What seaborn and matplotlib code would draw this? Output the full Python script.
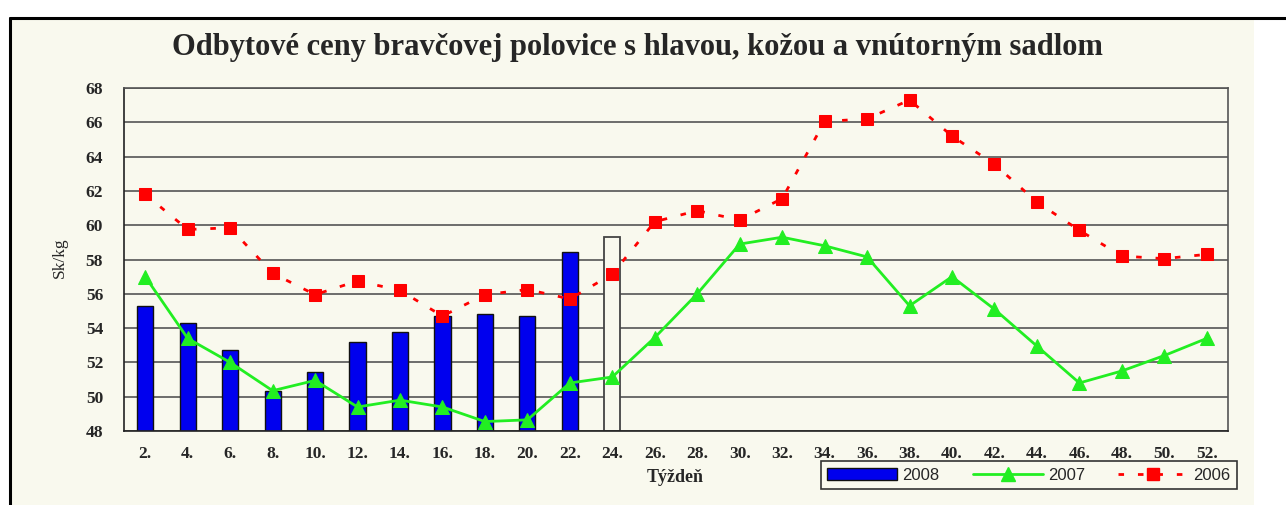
import numpy as np
import pandas as pd
import matplotlib
matplotlib.use("Agg")
import matplotlib.pyplot as plt
import seaborn as sns
from matplotlib.patches import Rectangle, Patch
from matplotlib.lines import Line2D

# data
weeks = [f"{w}." for w in range(2, 53, 2)]
bars_2008 = [55.3, 54.3, 52.7, 50.35, 51.45, 53.2, 53.8, 54.7, 54.85, 54.7, 58.45]
bar_week24 = [59.3]
line_2007 = [57.0, 53.4, 52.0, 50.35, 50.95, 49.4, 49.8, 49.4, 48.55, 48.65, 50.8, 51.15,
             53.45, 56.0, 58.9, 59.3, 58.8, 58.15, 55.3, 57.0, 55.1, 52.95, 50.8, 51.5, 52.4, 53.4]
line_2006 = [61.8, 59.75, 59.85, 57.2, 55.95, 56.75, 56.2, 54.7, 55.95, 56.25, 55.7, 57.15,
             60.2, 60.85, 60.3, 61.55, 66.05, 66.2, 67.3, 65.2, 63.55, 61.35, 59.7, 58.2, 58.05, 58.3]

bg = "#F9F9EE"
serif = "Liberation Serif"

sns.set_style("white")
plt.rcParams["font.family"] = [serif, "DejaVu Serif"]

W, H = 1286, 505
fig = plt.figure(figsize=(W / 100, H / 100), dpi=100)
fig.patch.set_facecolor("white")
fig.patches.append(Rectangle((10 / W, 0), (1254 - 10) / W, (H - 18) / H, transform=fig.transFigure,
                             facecolor=bg, edgecolor="none", zorder=-10))
fig.add_artist(Line2D([10 / W, 1], [1 - 18 / H, 1 - 18 / H], transform=fig.transFigure, color="black", lw=2.2))
fig.add_artist(Line2D([10 / W, 10 / W], [0, 1 - 18 / H], transform=fig.transFigure, color="black", lw=2.2))

ax = fig.add_axes([124 / W, 1 - 431 / H, (1228 - 124) / W, (431 - 88) / H])
ax.set_facecolor(bg)

pos = np.arange(len(weeks))
df_bar = pd.DataFrame({"week": weeks[:len(bars_2008)], "price": bars_2008})
df_b24 = pd.DataFrame({"week": [weeks[len(bars_2008)]], "price": bar_week24})
df_lines = pd.DataFrame({"pos": pos, "y2007": line_2007, "y2006": line_2006})

sns.barplot(data=df_bar, x="week", y="price", order=weeks, color="#0000EE", saturation=1,
            width=0.38, edgecolor="#111111", linewidth=1, ax=ax, zorder=2)
sns.barplot(data=df_b24, x="week", y="price", order=weeks, color=bg, saturation=1,
            width=0.38, edgecolor="#444444", linewidth=1.3, ax=ax, zorder=2)
for p in ax.patches:
    p.set_y(48)
    p.set_height(p.get_height() - 48)

sns.lineplot(data=df_lines, x="pos", y="y2007", color="#22EE22", lw=2, marker="^", markersize=9.5,
             markeredgecolor="#22EE22", ax=ax, zorder=4)
sns.lineplot(data=df_lines, x="pos", y="y2006", color="#FF0000", lw=2, linestyle=(0, (2, 5)),
             marker="s", markersize=8, markeredgecolor="#FF0000", ax=ax, zorder=5)

ax.set_xlim(-0.5, len(weeks) - 0.5)
ax.set_ylim(48, 68)
ax.set_yticks(np.arange(48, 69, 2))
ax.yaxis.grid(True, color="#555555", lw=1.2, zorder=1)
ax.set_axisbelow(True)

ax.set_xticks(pos)
ax.set_xticklabels(weeks, fontsize=12.5, fontweight="bold")
ax.set_xticks(np.arange(-0.5, len(weeks), 2), minor=True)
ax.tick_params(axis="x", which="major", length=0, pad=11)
ax.tick_params(axis="x", which="minor", length=5, width=1, color="#333333", direction="out")
ax.tick_params(axis="y", length=7, width=1, color="#333333", direction="out", pad=8, labelsize=12.5)
for lab in ax.get_yticklabels():
    lab.set_fontweight("bold")

for s in ["top", "right"]:
    ax.spines[s].set_color("#555555")
    ax.spines[s].set_linewidth(1.2)
for s in ["left", "bottom"]:
    ax.spines[s].set_color("#222222")
    ax.spines[s].set_linewidth(1.2)

ax.set_xlabel("")
ax.set_ylabel("")
fig.text(60 / W, 1 - 258 / H, "Sk/kg", fontsize=12.5, rotation=90, ha="center", va="center")
fig.text(675 / W, 1 - 477 / H, "Týždeň", fontsize=13, fontweight="bold", ha="center", va="center")
fig.text(637 / W, 1 - 47 / H, "Odbytové ceny bravčovej polovice s hlavou, kožou a vnútorným sadlom",
         fontsize=22, fontweight="bold", ha="center", va="center")

handles = [
    Patch(facecolor="#0000EE", edgecolor="#111111", label="2008"),
    Line2D([], [], color="#22EE22", lw=2, marker="^", markersize=9.5, label="2007"),
    Line2D([], [], color="#FF0000", lw=2, linestyle=(0, (2, 5)), marker="s", markersize=8, label="2006"),
]
leg = fig.legend(handles=handles, ncol=3, loc="center", bbox_to_anchor=(1029 / W, 1 - 475 / H),
                 frameon=True, fancybox=False, edgecolor="#333333", facecolor=bg, framealpha=1,
                 prop={"family": "Liberation Sans", "size": 12}, handlelength=4.2, columnspacing=2.0,
                 borderpad=0.4, handletextpad=0.3)
leg.get_frame().set_linewidth(1.2)

fig.savefig("out.png", dpi=100, facecolor=fig.get_facecolor())
